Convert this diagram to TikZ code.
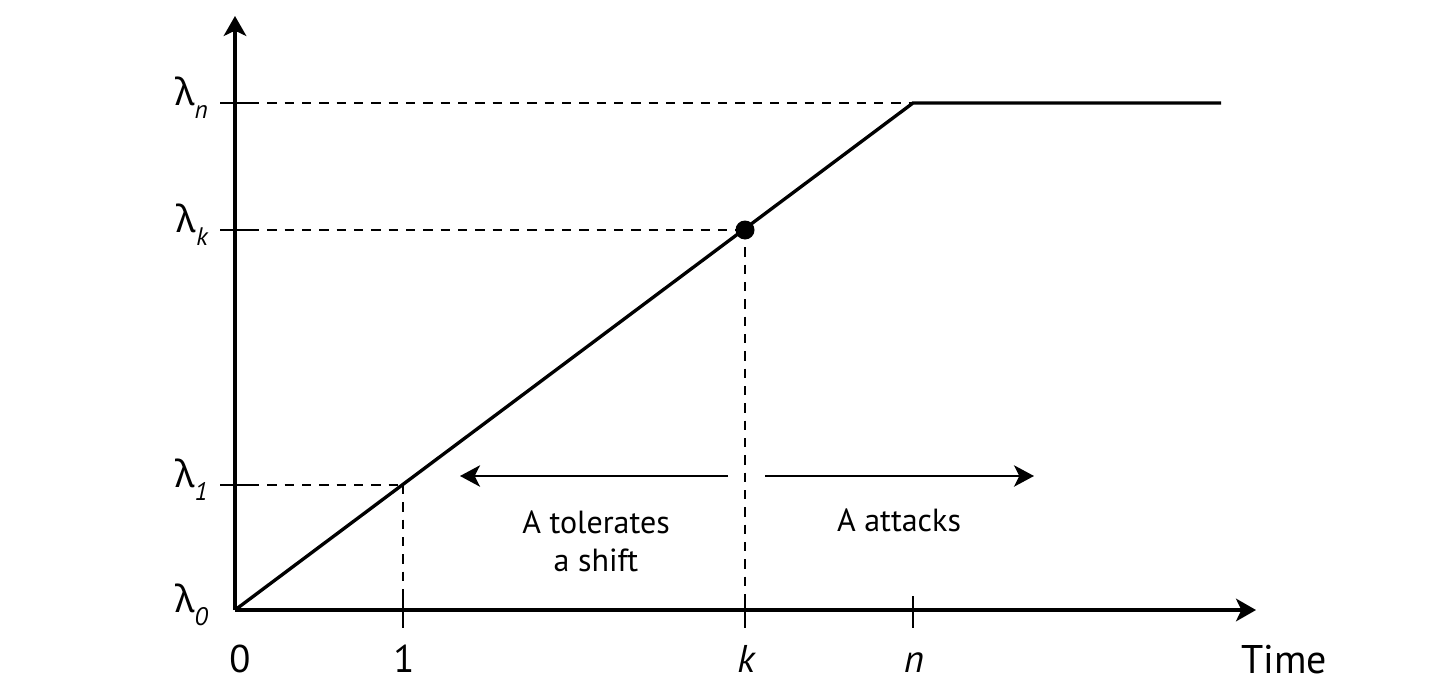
\documentclass[tikz,border=0pt]{standalone}
\usepackage{fontspec}
\setmainfont{PT Sans}
\newfontfamily\grkfont{Noto Sans}
\usetikzlibrary{arrows.meta}
\newcommand{\lamlabel}[1]{{\grkfont\fontsize{28}{30}\selectfont λ}\raisebox{-10pt}{\fontsize{19}{20}\selectfont\itshape #1}}
\begin{document}
\begin{tikzpicture}[x=0.75pt,y=0.75pt,yscale=-1,xscale=1,
  axisline/.style={line width=2.3pt,-{Stealth[length=15pt,width=17pt,inset=4pt]}},
  guideline/.style={line width=1.2pt,dash pattern=on 7pt off 6pt},
  tickline/.style={line width=1.3pt},
  rateline/.style={line width=2.5pt,line join=miter},
  spanarrow/.style={line width=1.9pt,-{Stealth[length=15pt,width=16pt,inset=4pt]}},
  ticklabel/.style={inner sep=0pt,font=\fontsize{29}{32}\selectfont},
  textlabel/.style={inner sep=0pt,align=center,font=\fontsize{24}{28.5}\selectfont}]
\useasboundingbox (0,0) rectangle (1440,700);
% points
\coordinate (O) at (235,610);
\coordinate (ytop) at (235,16);
\coordinate (xend) at (1256,610);
\coordinate (Pone) at (403,485);
\coordinate (Pk) at (745,230);
\coordinate (Pn) at (913,103);
\coordinate (Pend) at (1221,103);
% axes
\draw [axisline] (O) -- (ytop) ;
\draw [axisline] (O) -- (xend) ;
% ticks on the y axis
\draw [tickline] (220,103) -- (250,103) ;
\draw [tickline] (220,230) -- (250,230) ;
\draw [tickline] (220,485) -- (250,485) ;
% ticks on the x axis
\draw [tickline] (403,596) -- (403,628) ;
\draw [tickline] (745,596) -- (745,628) ;
\draw [tickline] (913,596) -- (913,628) ;
% guide lines
\draw [guideline] (250,103) -- (Pn) ;
\draw [guideline] (250,230) -- (Pk) ;
\draw [guideline] (250,485) -- (Pone) ;
\draw [guideline] (Pone) -- (403,596) ;
\draw [guideline] (Pk) -- (745,596) ;
% rate
\draw [rateline] (O) -- (Pn) -- (Pend) ;
\fill (Pk) circle (9.5) ;
% y labels
\node (ln) [anchor=base east,inner sep=0pt] at (208,105) {\lamlabel{n}};
\node (lk) [anchor=base east,inner sep=0pt] at (208,232) {\lamlabel{k}};
\node (l1) [anchor=base east,inner sep=0pt] at (208,487) {\lamlabel{1}};
\node (l0) [anchor=base east,inner sep=0pt] at (208,612) {\lamlabel{0}};
% x labels
\node (t0) [ticklabel,anchor=base] at (240,672) {0};
\node (t1) [ticklabel,anchor=base] at (404,672) {1};
\node (tk) [ticklabel,anchor=base] at (746,672) {\itshape k};
\node (tn) [ticklabel,anchor=base] at (914,672) {\itshape n};
\node (time) [ticklabel,anchor=base west,font=\fontsize{30}{33}\selectfont] at (1241,673) {Time};
% regimes
\coordinate (tolstart) at (728,476);
\coordinate (tolend) at (460,476);
\coordinate (attstart) at (765,476);
\coordinate (attend) at (1034,476);
\draw [spanarrow] (tolstart) -- (tolend) ;
\draw [spanarrow] (attstart) -- (attend) ;
\node (tol) [textlabel,anchor=base] at (596,571) {A tolerates\\a shift};
\node (att) [textlabel,anchor=base] at (899,531) {A attacks};
\end{tikzpicture}
\end{document}
